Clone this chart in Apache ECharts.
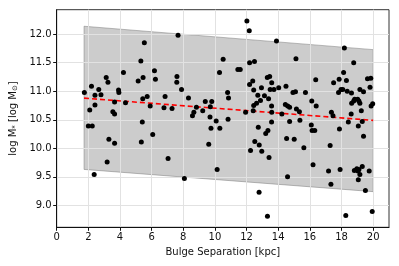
<!DOCTYPE html>
<html>
<head>
<meta charset="utf-8">
<script src="https://cdn.jsdelivr.net/npm/echarts@6/dist/echarts.min.js"></script>
<style>html,body{margin:0;padding:0;background:#fff}#c{width:399px;height:266px}</style>
</head>
<body>
<div id="c"></div>
<script>
// Band (confidence region) corners
const bandX = [1.73, 20.0];
const bandUpper = [12.14, 11.73];
const bandLower = [9.63, 9.24];
// Fit line
const fitX = [1.73, 20.0];
const fitY = [10.88, 10.49];
// Tick values
const xTicks = [0, 2, 4, 6, 8, 10, 12, 14, 16, 18, 20];
const yTicks = [9.0, 9.5, 10.0, 10.5, 11.0, 11.5, 12.0];
// Scatter points
const pointsX = [
1.75,2.09,2.20,2.42,2.42,2.66,2.80,2.00,2.25,3.13,3.24,3.55,3.66,3.66,3.91,3.93,4.22,4.35,5.15,5.32,
5.54,5.46,5.44,5.72,5.91,6.18,6.24,6.85,6.78,7.29,7.60,7.59,7.67,7.89,8.33,8.67,8.58,8.83,9.23,9.39,
9.71,9.80,9.69,10.52,10.29,10.80,10.86,10.83,11.45,11.60,12.02,12.17,13.89,12.19,12.50,15.12,12.19,12.39,12.45,13.31,
13.46,13.59,13.49,13.73,14.03,12.94,12.71,13.13,13.39,12.88,12.63,12.45,13.58,12.42,11.94,13.59,14.23,14.49,14.93,15.09,
15.72,16.37,16.12,16.40,14.45,14.60,14.72,15.15,15.34,18.18,18.77,18.13,17.85,18.31,17.50,17.97,18.08,17.81,18.36,18.63,
19.16,19.39,19.64,19.85,19.80,18.83,18.77,19.02,19.10,18.64,19.16,19.97,19.87,19.25,17.36,17.46,18.61,
5.41,6.07,3.30,3.66,5.35,3.19,2.37,7.04,8.07,10.08,9.75,10.31,9.61,10.14,13.58,14.72,15.37,16.09,16.14,16.31,
12.74,13.35,13.21,14.53,15.01,12.52,12.80,15.62,12.25,12.96,13.42,16.20,14.59,12.79,13.32,19.31,18.43,19.06,17.87,19.39,
17.28,17.91,17.18,18.81,18.97,19.10,19.31,19.04,19.16,19.75,19.06,17.33,19.51,18.27,19.94
];
const pointsY = [
10.98,10.67,11.09,10.93,10.76,11.03,10.94,10.39,10.39,11.24,11.16,10.64,10.60,10.81,11.02,10.98,11.33,10.80,11.18,11.53,
11.85,11.24,10.87,10.91,10.74,11.36,11.21,10.91,10.71,10.70,11.26,11.16,11.98,11.03,10.88,10.63,10.57,10.72,10.66,10.82,
10.73,10.82,10.55,11.56,11.33,10.98,10.88,10.51,11.38,11.38,12.23,12.06,11.88,11.50,11.52,11.57,11.12,11.18,11.02,11.24,
11.26,11.15,11.03,11.03,11.06,11.06,10.93,10.92,10.87,10.84,10.79,10.75,10.74,10.66,10.63,10.63,10.60,11.09,10.98,10.99,
10.98,11.20,10.83,10.74,10.77,10.74,10.72,10.69,10.64,11.76,11.50,11.33,11.21,11.19,11.15,11.03,11.03,10.98,11.00,10.97,
11.03,10.99,11.22,11.23,11.07,10.86,10.83,10.86,10.83,10.79,10.79,10.78,10.74,10.66,10.63,10.57,10.60,
10.46,10.24,10.16,10.09,10.11,9.76,9.54,9.82,9.47,10.48,10.35,10.35,10.07,9.63,10.46,10.47,10.49,10.41,10.31,10.31,
10.37,10.31,10.26,10.17,10.16,10.12,10.06,10.01,9.96,9.95,9.84,9.71,9.50,9.23,8.81,10.47,10.46,10.39,10.34,10.21,
10.05,9.63,9.60,9.61,9.64,9.63,9.68,9.60,9.54,9.60,9.45,9.37,9.26,8.82,8.89
];

const scatterData = pointsX.map((x, i) => [x, pointsY[i]]);
const fitData = fitX.map((x, i) => [x, fitY[i]]);

const chart = echarts.init(document.getElementById('c'), null, {renderer: 'canvas'});
const font = 'DejaVu Sans';
chart.setOption({
  animation: false,
  grid: {left: 53.3, right: 10, top: 9.7, bottom: 38.7, show: true, borderColor: '#333', borderWidth: 1},
  xAxis: {
    type: 'value', min: 0, max: 21,
    name: 'Bulge Separation [kpc]', nameLocation: 'middle', nameGap: 18,
    nameTextStyle: {fontFamily: font, fontSize: 10, color: '#111'},
    axisLine: {show: true, lineStyle: {color: '#111', width: 1}},
    axisTick: {show: true, inside: false, length: 3.5, customValues: xTicks, lineStyle: {color: '#111'}},
    axisLabel: {customValues: xTicks, fontFamily: font, fontSize: 10, color: '#111', margin: 5},
    splitLine: {show: true, lineStyle: {color: '#e2e2e2', width: 1}}
  },
  yAxis: {
    type: 'value', min: 8.615, max: 12.43,
    name: '{a|log M}{s|*}{a| [log M}{s|⊙}{a|]}', nameLocation: 'middle', nameGap: 33,
    nameTextStyle: {fontFamily: font, fontSize: 10, color: '#111',
      rich: {a: {fontFamily: font, fontSize: 10, color: '#111'}, s: {fontFamily: font, fontSize: 7, color: '#111', padding: [4, 0, 0, 0]}}},
    axisLine: {show: true, lineStyle: {color: '#111', width: 1}},
    axisTick: {show: true, inside: false, length: 3.5, customValues: yTicks, lineStyle: {color: '#111'}},
    axisLabel: {customValues: yTicks, fontFamily: font, fontSize: 10, color: '#111', margin: 5,
      formatter: v => v.toFixed(1)},
    splitLine: {show: true, lineStyle: {color: '#e2e2e2', width: 1}}
  },
  series: [
    {
      type: 'custom', z: -1, silent: true,
      data: [[bandX[0], bandUpper[0]]],
      renderItem: function (params, api) {
        const pts = [];
        for (let i = 0; i < bandX.length; i++) pts.push(api.coord([bandX[i], bandUpper[i]]));
        for (let i = bandX.length - 1; i >= 0; i--) pts.push(api.coord([bandX[i], bandLower[i]]));
        return {type: 'polygon', shape: {points: pts}, style: {fill: 'rgba(128,128,128,0.4)', stroke: 'rgba(110,110,110,0.45)', lineWidth: 1}};
      }
    },
    {
      type: 'line', data: fitData, showSymbol: false, symbol: 'none', z: 3,
      lineStyle: {color: '#ff0000', width: 1.6, type: [5, 3]}
    },
    {
      type: 'scatter', data: scatterData, symbolSize: 5, z: 4,
      itemStyle: {color: '#000000', opacity: 1}
    }
  ]
});
</script>
</body>
</html>
